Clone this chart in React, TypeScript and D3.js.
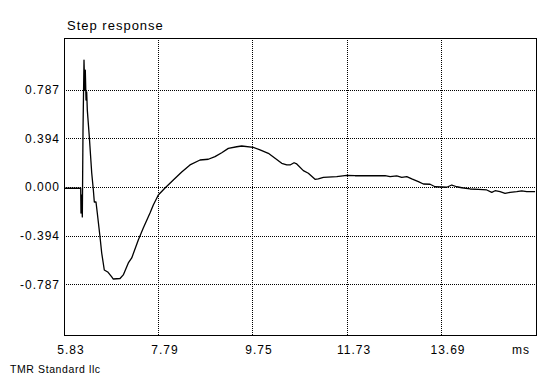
import React from "react";
import * as d3 from "d3";

const title = "Step response";
const footer = "TMR Standard llc";
const xUnit = "ms";
const xTickValues = [5.83, 7.79, 9.75, 11.73, 13.69];
const xTickLabels = ["5.83", "7.79", "9.75", "11.73", "13.69"];
const yTickValues = [0.787, 0.394, 0.0, -0.394, -0.787];
const yTickLabels = ["0.787", "0.394", "0.000", "-0.394", "-0.787"];
const xDomain = [5.83, 15.67];
const yDomain = [-1.195, 1.203];

const timeMs = [
  5.83, 6.164, 6.178, 6.184, 6.195, 6.212, 6.226, 6.247, 6.262, 6.274, 6.289, 6.303, 6.316,
  6.358, 6.408, 6.441, 6.462, 6.497, 6.524, 6.581, 6.616, 6.67, 6.741, 6.825, 6.858, 6.998,
  7.066, 7.171, 7.242, 7.379, 7.483, 7.623, 7.692, 7.796, 7.936, 8.109, 8.284, 8.457, 8.666,
  8.839, 8.978, 9.118, 9.256, 9.431, 9.535, 9.777, 9.917, 10.09, 10.23, 10.369, 10.474,
  10.543, 10.626, 10.682, 10.82, 10.924, 11.064, 11.132, 11.237, 11.516, 11.725, 11.898,
  12.523, 12.628, 12.767, 12.871, 12.976, 13.08, 13.218, 13.322, 13.462, 13.566, 13.81,
  13.914, 14.018, 14.123, 14.296, 14.469, 14.644, 14.748, 14.817, 14.921, 15.025, 15.13,
  15.269, 15.373, 15.478, 15.651,
];
const response = [
  -0.01, -0.01, -0.01, -0.21, -0.065, -0.242, 0.45, 1.025, 0.783, 0.944, 0.702, 0.767, 0.621,
  0.404, 0.113, -0.02, -0.121, -0.121, -0.21, -0.404, -0.533, -0.67, -0.686, -0.726, -0.743,
  -0.739, -0.71, -0.613, -0.573, -0.428, -0.331, -0.21, -0.145, -0.065, -0.008, 0.056, 0.121,
  0.178, 0.218, 0.224, 0.245, 0.277, 0.312, 0.325, 0.331, 0.32, 0.299, 0.272, 0.232, 0.191,
  0.178, 0.178, 0.196, 0.186, 0.132, 0.111, 0.062, 0.065, 0.078, 0.083, 0.093, 0.091, 0.091,
  0.083, 0.089, 0.078, 0.083, 0.065, 0.043, 0.024, 0.022, 0.002, -0.002, 0.016, 0.002,
  -0.006, -0.016, -0.019, -0.024, -0.043, -0.03, -0.038, -0.051, -0.043, -0.038, -0.032,
  -0.038, -0.038,
];

const W = 560;
const H = 382;
const left = 64;
const right = 536;
const top = 38;
const bottom = 335;
const font = "'Liberation Sans', Arial, sans-serif";

export default function App() {
  const x = d3.scaleLinear().domain(xDomain).range([left, right]);
  const y = d3.scaleLinear().domain(yDomain).range([bottom, top]);
  const pts: [number, number][] = timeMs.map((t, i) => [t, response[i]]);
  const line = d3
    .line<[number, number]>()
    .x((d) => x(d[0]))
    .y((d) => y(d[1]));

  return (
    <svg
      width={W}
      height={H}
      style={{ position: "absolute", left: 0, top: 0, background: "#fff" }}
    >
      <rect x={0} y={0} width={W} height={H} fill="#fff" />
      <text x={67} y={30} fontFamily={font} fontSize={13} letterSpacing={1} fill="#000">
        {title}
      </text>
      {xTickValues.slice(1).map((v) => (
        <line
          key={"gx" + v}
          x1={Math.round(x(v)) + 0.5}
          x2={Math.round(x(v)) + 0.5}
          y1={top}
          y2={bottom}
          stroke="#000"
          strokeDasharray="1,1"
          shapeRendering="crispEdges"
        />
      ))}
      {yTickValues.map((v) => (
        <line
          key={"gy" + v}
          x1={left}
          x2={right}
          y1={Math.round(y(v)) + 0.5}
          y2={Math.round(y(v)) + 0.5}
          stroke="#000"
          strokeDasharray="1,1"
          shapeRendering="crispEdges"
        />
      ))}
      <rect
        x={left + 0.5}
        y={top + 0.5}
        width={right - left}
        height={bottom - top}
        fill="none"
        stroke="#000"
        strokeWidth={1}
        shapeRendering="crispEdges"
      />
      <path d={line(pts) || ""} fill="none" stroke="#000" strokeWidth={1.3} strokeLinejoin="round" />
      {yTickValues.map((v, i) => (
        <text
          key={"ty" + v}
          x={60}
          y={y(v) + 4.5}
          textAnchor="end"
          fontFamily={font}
          fontSize={12}
          letterSpacing={1}
          fill="#000"
        >
          {yTickLabels[i]}
        </text>
      ))}
      {xTickValues.map((v, i) => (
        <text
          key={"tx" + v}
          x={x(v) + 7}
          y={354}
          textAnchor="middle"
          fontFamily={font}
          fontSize={12}
          letterSpacing={1}
          fill="#000"
        >
          {xTickLabels[i]}
        </text>
      ))}
      <text x={512} y={354} fontFamily={font} fontSize={12} letterSpacing={1} fill="#000">
        {xUnit}
      </text>
      <text x={10} y={373} fontFamily={font} fontSize={10.5} letterSpacing={0.6} fill="#000">
        {footer}
      </text>
    </svg>
  );
}
